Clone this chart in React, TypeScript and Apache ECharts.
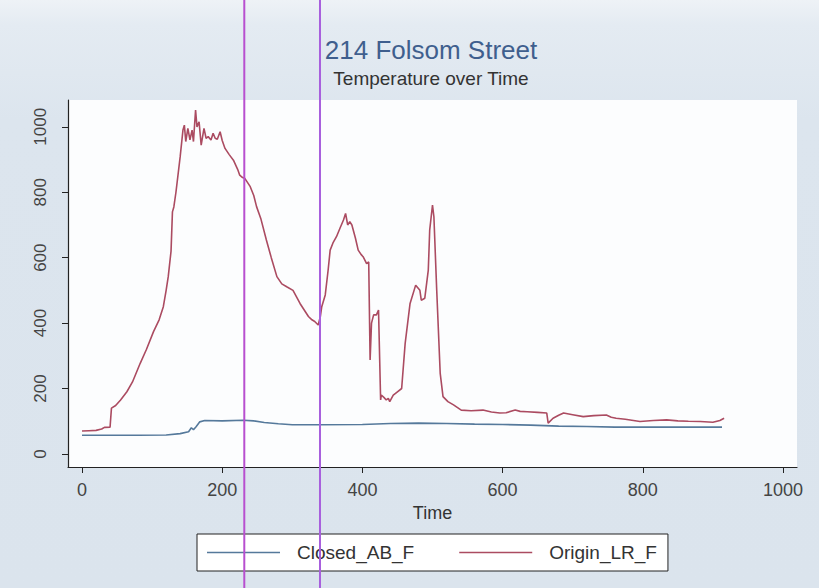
import React, { useEffect, useRef } from "react";
import * as echarts from "echarts";

const titleText = "214 Folsom Street";
const subtitleText = "Temperature over Time";
const xAxisName = "Time";
const seriesNames = ["Closed_AB_F", "Origin_LR_F"];
const tickValues = [0, 200, 400, 600, 800, 1000];
const markerTimes = [231.5, 339.5];

const closedTime = [0, 40, 80, 120, 140, 152, 156, 159, 163, 168, 175, 200, 230, 245, 260, 280, 300, 340, 400, 440, 480, 520, 560, 600, 640, 680, 720, 760, 800, 850, 913];
const closedTemp = [57, 57, 57, 58, 62, 68, 80, 74, 84, 98, 102, 101, 103, 101, 96, 92, 89, 89, 90, 93, 94, 93, 91, 90, 88, 85, 84, 82, 82, 82, 82];

const originTime = [0, 10, 20, 28, 32, 40, 42, 48, 55, 64, 72, 83, 92, 102, 110, 116, 120, 123, 127, 129, 131, 134, 140, 144, 146, 148, 151, 154, 157, 159, 162, 164, 167, 170, 174, 177, 180, 184, 187, 190, 193, 197, 200, 204, 210, 216, 222, 225, 229, 232, 236, 240, 245, 249, 255, 263, 270, 278, 285, 292, 301, 306, 311, 317, 323, 328, 332, 337, 340, 342, 347, 351, 354, 358, 363, 368, 373, 376, 379, 382, 385, 390, 394, 398, 401, 406, 409, 411, 413, 416, 420, 423, 426, 427, 431, 434, 437, 439, 444, 450, 456, 461, 468, 476, 482, 484, 489, 494, 496, 500, 502, 506, 511, 515, 522, 530, 541, 555, 572, 584, 596, 605, 618, 625, 635, 650, 663, 665, 672, 680, 687, 700, 715, 730, 748, 755, 762, 775, 796, 815, 834, 850, 865, 882, 900, 910, 916];
const originTemp = [70, 71, 72, 76, 81, 82, 140, 148, 165, 190, 220, 277, 320, 374, 410, 450, 500, 542, 620, 740, 755, 800, 908, 990, 1005, 955, 995, 960, 990, 955, 1051, 1000, 1015, 944, 995, 965, 970, 960, 980, 965, 962, 985, 958, 934, 915, 898, 870, 852, 845, 843, 830, 817, 790, 756, 720, 654, 600, 542, 520, 511, 500, 480, 460, 440, 420, 410, 405, 394, 420, 450, 486, 560, 623, 645, 664, 690, 715, 735, 700, 710, 700, 660, 623, 610, 603, 582, 587, 287, 400, 425, 425, 440, 165, 180, 172, 165, 170, 160, 180, 190, 200, 338, 460, 516, 500, 470, 476, 562, 684, 761, 725, 501, 246, 175, 160, 150, 134, 132, 134, 128, 125, 126, 134, 130, 129, 127, 125, 94, 109, 118, 125, 120, 114, 117, 119, 112, 109, 106, 99, 102, 104, 101, 100, 99, 97, 102, 109];

const FONT = "'Liberation Sans', Arial, sans-serif";
const colorsSeries = ["#55799b", "#ab4b61"];

export default function App() {
  const ref = useRef<HTMLDivElement>(null);

  useEffect(() => {
    if (!ref.current) return;
    const chart = echarts.init(ref.current, undefined, { renderer: "svg" });
    const closedData = closedTime.map((t, i) => [t, closedTemp[i]]);
    const originData = originTime.map((t, i) => [t, originTemp[i]]);

    chart.setOption({
      animation: false,
      backgroundColor: "transparent",
      title: [
        {
          text: titleText,
          left: 426,
          top: 32,
          textAlign: "center",
          textStyle: { fontFamily: FONT, fontSize: 26, fontWeight: "normal", color: "#3f5f8e", lineHeight: 26 },
        },
        {
          text: subtitleText,
          left: 426,
          top: 64,
          textAlign: "center",
          textStyle: { fontFamily: FONT, fontSize: 19, fontWeight: "normal", color: "#333", lineHeight: 19 },
        },
      ],
      grid: {
        left: 68,
        right: 22,
        top: 100,
        bottom: 121,
        show: true,
        backgroundColor: "#fcfdfe",
        borderWidth: 0,
      },
      legend: {
        left: 197,
        top: 534,
        padding: [9, 11, 9, 10],
        itemGap: 45,
        itemWidth: 73,
        itemHeight: 1.6,
        icon: "rect",
        borderColor: "#222",
        borderWidth: 1,
        borderRadius: 0,
        backgroundColor: "#fff",
        data: seriesNames,
        textStyle: { fontFamily: FONT, fontSize: 19, color: "#333", padding: [0, 0, 0, 12] },
      },
      xAxis: {
        type: "value",
        min: -20,
        max: 1020,
        name: xAxisName,
        nameLocation: "middle",
        nameGap: 35,
        nameTextStyle: { fontFamily: FONT, fontSize: 18, color: "#333", lineHeight: 18 },
        axisLine: { show: true, onZero: false, lineStyle: { color: "#222", width: 1.2 } },
        axisTick: { show: true, length: 6, customValues: tickValues, lineStyle: { color: "#222" } },
        axisLabel: {
          customValues: tickValues,
          formatter: (v: number) => String(v),
          margin: 14,
          fontFamily: FONT,
          fontSize: 18,
          color: "#444",
          lineHeight: 18,
        },
        splitLine: { show: false },
      },
      yAxis: {
        type: "value",
        min: -40,
        max: 1082,
        axisLine: { show: true, onZero: false, lineStyle: { color: "#222", width: 1.2 } },
        axisTick: { show: true, length: 6, customValues: tickValues, lineStyle: { color: "#222" } },
        axisLabel: {
          customValues: tickValues,
          formatter: (v: number) => String(v),
          rotate: 90,
          margin: 19,
          fontFamily: FONT,
          fontSize: 17,
          color: "#444",
          lineHeight: 17,
        },
        splitLine: { show: false },
      },
      series: [
        {
          name: seriesNames[0],
          type: "line",
          data: closedData,
          symbol: "none",
          lineStyle: { color: colorsSeries[0], width: 1.6 },
          itemStyle: { color: colorsSeries[0] },
        },
        {
          name: seriesNames[1],
          type: "line",
          data: originData,
          symbol: "none",
          lineStyle: { color: colorsSeries[1], width: 1.6 },
          itemStyle: { color: colorsSeries[1] },
        },
      ],
    });

    const colors = ["#b84fcf", "#a85fdd"];
    const graphics = markerTimes.map((t, i) => {
      const px = chart.convertToPixel({ xAxisIndex: 0 }, t) as number;
      return {
        type: "line",
        z: 100,
        shape: { x1: px, y1: 0, x2: px, y2: 588 },
        style: { stroke: colors[i % colors.length], lineWidth: 2 },
      };
    });
    chart.setOption({ graphic: graphics });

    return () => chart.dispose();
  }, []);

  return (
    <div
      style={{
        position: "fixed",
        left: 0,
        top: 0,
        width: 819,
        height: 588,
        background: "linear-gradient(180deg, #eef2f6 0px, #e4ebf2 25px, #dce5ee 120px, #dbe4ed 588px)",
      }}
    >
      <div ref={ref} style={{ width: 819, height: 588 }} />
    </div>
  );
}
